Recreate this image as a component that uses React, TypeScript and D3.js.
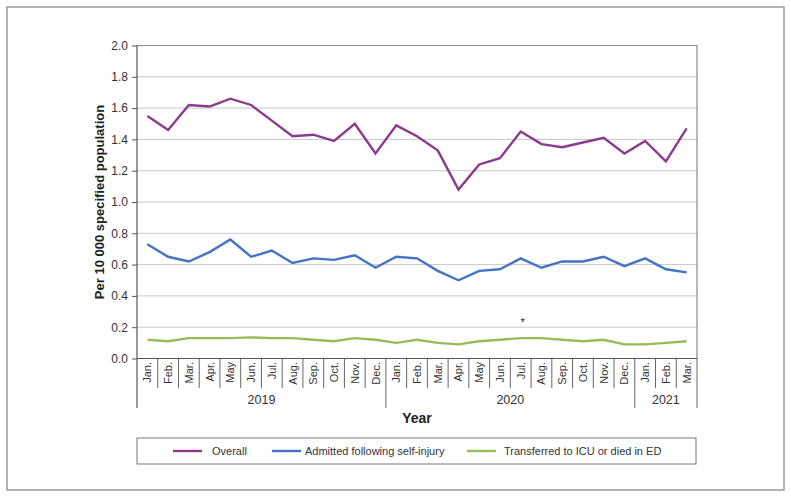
import { useEffect, useRef } from 'react';
import * as d3 from 'd3';

const months = [
  'Jan.', 'Feb.', 'Mar.', 'Apr.', 'May', 'Jun.', 'Jul.', 'Aug.', 'Sep.', 'Oct.', 'Nov.', 'Dec.',
  'Jan.', 'Feb.', 'Mar.', 'Apr.', 'May', 'Jun.', 'Jul.', 'Aug.', 'Sep.', 'Oct.', 'Nov.', 'Dec.',
  'Jan.', 'Feb.', 'Mar.',
];
const years = [
  { label: '2019', start: 0, end: 12 },
  { label: '2020', start: 12, end: 24 },
  { label: '2021', start: 24, end: 27 },
];

const overall = [
  1.55, 1.46, 1.62, 1.61, 1.66, 1.62, 1.52, 1.42, 1.43, 1.39, 1.5, 1.31,
  1.49, 1.42, 1.33, 1.08, 1.24, 1.28, 1.45, 1.37, 1.35, 1.38, 1.41, 1.31,
  1.39, 1.26, 1.47,
];
const admitted = [
  0.73, 0.65, 0.62, 0.68, 0.76, 0.65, 0.69, 0.61, 0.64, 0.63, 0.66, 0.58,
  0.65, 0.64, 0.56, 0.5, 0.56, 0.57, 0.64, 0.58, 0.62, 0.62, 0.65, 0.59,
  0.64, 0.57, 0.55,
];
const transferred = [
  0.12, 0.11, 0.13, 0.13, 0.13, 0.135, 0.13, 0.13, 0.12, 0.11, 0.13, 0.12,
  0.1, 0.12, 0.1, 0.09, 0.11, 0.12, 0.13, 0.13, 0.12, 0.11, 0.12, 0.09,
  0.09, 0.1, 0.11,
];

const series = [
  { name: 'Overall', values: overall, color: '#8c3a8e' },
  { name: 'Admitted following self-injury', values: admitted, color: '#4472c4' },
  { name: 'Transferred to ICU or died in ED', values: transferred, color: '#9bbb59' },
];

const yTicks = [0, 0.2, 0.4, 0.6, 0.8, 1.0, 1.2, 1.4, 1.6, 1.8, 2.0];
const starIndex = 18; // Jul. 2020

export default function App() {
  const svgRef = useRef<SVGSVGElement>(null);

  useEffect(() => {
    if (!svgRef.current) return;
    const W = 791;
    const H = 498;
    const left = 137;
    const right = 697;
    const top = 45.5;
    const bottom = 358.5;
    const font = '"Liberation Sans", Arial, sans-serif';

    const svg = d3.select(svgRef.current);
    svg.selectAll('*').remove();
    svg.attr('width', W).attr('height', H);

    // Outer frame
    svg.append('rect')
      .attr('x', 7).attr('y', 7)
      .attr('width', 777).attr('height', 483)
      .attr('fill', '#fff')
      .attr('stroke', '#9a9a9a')
      .attr('stroke-width', 1.5);

    const idx = months.map((_, i) => String(i));
    const x = d3.scaleBand().domain(idx).range([left, right]).padding(0);
    const y = d3.scaleLinear().domain([0, 2]).range([bottom, top]);
    const cx = (i: number) => x(String(i))! + x.bandwidth() / 2;

    // Grid
    svg.append('g')
      .selectAll('line')
      .data(yTicks.filter((d) => d > 0 && d < 2))
      .join('line')
      .attr('x1', left).attr('x2', right)
      .attr('y1', (d) => y(d)).attr('y2', (d) => y(d))
      .attr('stroke', '#c8c8c8')
      .attr('stroke-width', 1);

    // Plot border (top/right)
    svg.append('path')
      .attr('d', `M${left},${y(2)}H${right}V${bottom}`)
      .attr('fill', 'none')
      .attr('stroke', '#8a8a8a')
      .attr('stroke-width', 1.2);

    // Y axis
    const yAxis = svg.append('g')
      .attr('transform', `translate(${left},0)`)
      .call(d3.axisLeft(y).tickValues(yTicks).tickSize(5).tickPadding(4).tickFormat((d) => (d as number).toFixed(1)));
    yAxis.select('.domain').remove();
    yAxis.selectAll('line').attr('stroke', '#555');
    yAxis.selectAll('text')
      .attr('fill', '#333')
      .attr('font-size', '12px')
      .attr('font-family', font);

    svg.append('line')
      .attr('x1', left).attr('x2', left)
      .attr('y1', top).attr('y2', 408)
      .attr('stroke', '#555').attr('stroke-width', 1.2);

    // X axis line
    svg.append('line')
      .attr('x1', left).attr('x2', right)
      .attr('y1', bottom).attr('y2', bottom)
      .attr('stroke', '#555').attr('stroke-width', 1.2);

    // Month separators
    svg.append('g')
      .selectAll('line')
      .data(d3.range(1, months.length))
      .join('line')
      .attr('x1', (i) => x(String(i))!).attr('x2', (i) => x(String(i))!)
      .attr('y1', bottom)
      .attr('y2', (i) => (years.some((yr) => yr.start === i) ? 408 : 388))
      .attr('stroke', '#666').attr('stroke-width', 1);

    svg.append('line')
      .attr('x1', right).attr('x2', right)
      .attr('y1', bottom).attr('y2', 408)
      .attr('stroke', '#666').attr('stroke-width', 1);

    // Month labels
    svg.append('g')
      .selectAll('text')
      .data(months)
      .join('text')
      .attr('transform', (_, i) => `translate(${cx(i) + 4},362) rotate(-90)`)
      .attr('text-anchor', 'end')
      .attr('fill', '#333')
      .attr('font-size', '11px')
      .attr('font-family', font)
      .text((d) => d);

    // Year labels
    svg.append('g')
      .selectAll('text')
      .data(years)
      .join('text')
      .attr('x', (d) => (x(String(d.start))! + (d.end < months.length ? x(String(d.end))! : right)) / 2)
      .attr('y', 404)
      .attr('text-anchor', 'middle')
      .attr('fill', '#333')
      .attr('font-size', '12.5px')
      .attr('font-family', font)
      .text((d) => d.label);

    // Axis titles
    svg.append('text')
      .attr('x', (left + right) / 2)
      .attr('y', 423)
      .attr('text-anchor', 'middle')
      .attr('font-size', '14px')
      .attr('font-weight', 'bold')
      .attr('font-family', font)
      .attr('fill', '#222')
      .text('Year');

    svg.append('text')
      .attr('transform', `translate(104,${(top + bottom) / 2}) rotate(-90)`)
      .attr('text-anchor', 'middle')
      .attr('font-size', '13px')
      .attr('font-weight', 'bold')
      .attr('font-family', font)
      .attr('fill', '#222')
      .text('Per 10 000 specified population');

    // Lines
    const line = d3.line<number>()
      .x((_, i) => cx(i))
      .y((d) => y(d));

    series.forEach((s) => {
      svg.append('path')
        .datum(s.values)
        .attr('fill', 'none')
        .attr('stroke', s.color)
        .attr('stroke-width', 2.4)
        .attr('stroke-linejoin', 'miter')
        .attr('d', line);
    });

    // Asterisk
    svg.append('text')
      .attr('x', cx(starIndex) + 2)
      .attr('y', y(0.2) - 1)
      .attr('text-anchor', 'middle')
      .attr('font-size', '11px')
      .attr('font-family', font)
      .attr('fill', '#222')
      .text('*');

    // Legend
    const lg = svg.append('g');
    lg.append('rect')
      .attr('x', left).attr('y', 438)
      .attr('width', right - left - 1).attr('height', 26)
      .attr('fill', '#fff')
      .attr('stroke', '#777')
      .attr('stroke-width', 1);
    const legendX = [173, 272, 467];
    const legendTextX = [212, 305, 504];
    series.forEach((s, i) => {
      lg.append('line')
        .attr('x1', legendX[i]).attr('x2', legendX[i] + 29)
        .attr('y1', 451).attr('y2', 451)
        .attr('stroke', s.color).attr('stroke-width', 2.4);
      lg.append('text')
        .attr('x', legendTextX[i])
        .attr('y', 455)
        .attr('font-size', '11px')
        .attr('font-family', font)
        .attr('fill', '#333')
        .text(s.name);
    });
  }, []);

  return <svg ref={svgRef} style={{ position: 'absolute', left: 0, top: 0 }} />;
}
